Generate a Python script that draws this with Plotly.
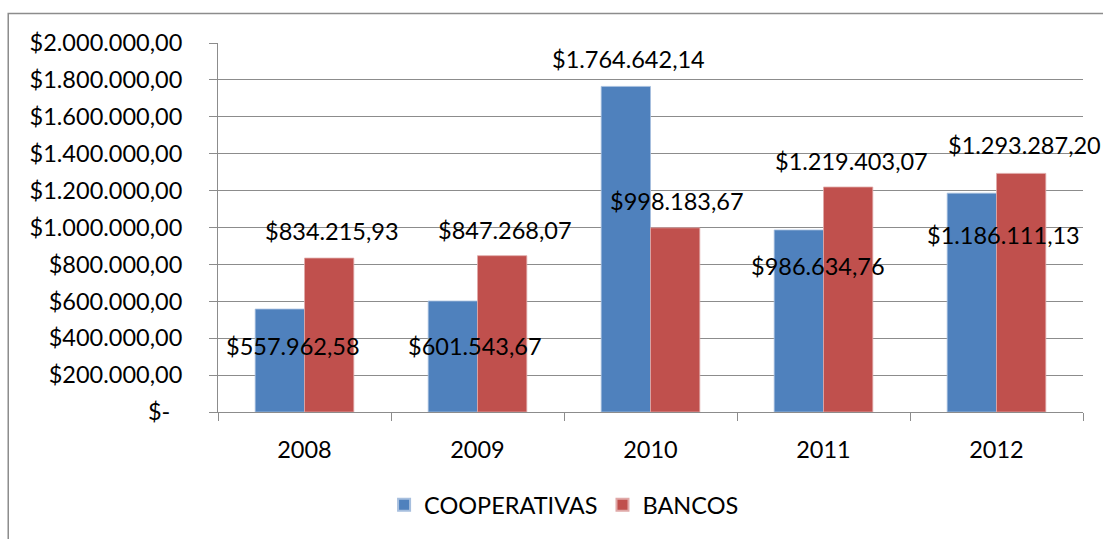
import plotly.graph_objects as go

years = ["2008", "2009", "2010", "2011", "2012"]
cooperativas = [557962.58, 601543.67, 1764642.14, 986634.76, 1186111.13]
bancos = [834215.93, 847268.07, 998183.67, 1219403.07, 1293287.20]
series_names = ["COOPERATIVAS", "BANCOS"]
y_tickvals = [0, 200000, 400000, 600000, 800000, 1000000, 1200000, 1400000, 1600000, 1800000, 2000000]
y_ticktext = ["$-\u00a0\u00a0", "$200.000,00", "$400.000,00", "$600.000,00", "$800.000,00",
              "$1.000.000,00", "$1.200.000,00", "$1.400.000,00", "$1.600.000,00",
              "$1.800.000,00", "$2.000.000,00"]

# label pixel offsets (dx, dy) relative to each bar top centre
label_offsets = [
    [(13, -37), (22, -45), (3, 27), (19, -36), (32, -42)],
    [(3, 27), (3, 26), (2, 27), (3, 26), (3, 28)],
]

colors = ["#4F81BD", "#C0504D"]
edge_colors = ["#A7BFDE", "#E0A9A8"]
FONT = "Lato"
FS = 23.5
BARGAP = 0.43


def fmt(v):
    s = f"{v:,.2f}"
    return "$" + s.replace(",", "X").replace(".", ",").replace("X", ".")


fig = go.Figure()
for name, vals, c, ec in zip(series_names, [cooperativas, bancos], colors, edge_colors):
    fig.add_trace(go.Bar(x=years, y=vals, name=name, marker=dict(color=c, line=dict(color=ec, width=0.8))))

half = (1 - BARGAP) / 4
annotations = []
for si, vals in enumerate([cooperativas, bancos]):
    shift = -half if si == 0 else half
    for j, v in enumerate(vals):
        dx, dy = label_offsets[si][j]
        annotations.append(dict(
            x=j + shift, y=v, xref="x", yref="y", text=fmt(v), showarrow=False,
            xshift=dx, yshift=dy, xanchor="center", yanchor="middle",
            font=dict(family=FONT, size=FS, color="black")))

fig.update_layout(
    width=1103, height=539, autosize=False,
    margin=dict(l=218, r=20, t=43, b=123),
    paper_bgcolor="white", plot_bgcolor="white",
    barmode="group", bargap=BARGAP, bargroupgap=0,
    font=dict(family=FONT, size=FS, color="black"),
    annotations=annotations,
    showlegend=True,
    legend=dict(orientation="h", x=0.192, xanchor="left", y=-0.252, yanchor="middle",
                font=dict(family=FONT, size=FS, color="black"), bgcolor="rgba(0,0,0,0)",
                itemsizing="constant", traceorder="normal"),
    shapes=[dict(type="rect", xref="paper", yref="paper", x0=-0.2425, y0=-0.6, x1=1.2, y1=1.08,
                 line=dict(color="#8C8C8C", width=1.5), fillcolor="rgba(0,0,0,0)", layer="below")],
)
fig.update_yaxes(range=[0, 2000000], tickvals=y_tickvals, ticktext=y_ticktext,
                 showgrid=True, gridcolor="#8C8C8C", gridwidth=1,
                 showline=True, linecolor="#8C8C8C", linewidth=1,
                 ticks="outside", ticklen=8, tickcolor="#8C8C8C", ticklabelstandoff=22,
                 zeroline=False, tickfont=dict(family=FONT, size=FS, color="black"))
fig.update_xaxes(type="category", range=[-0.5, len(years) - 0.5],
                 showline=True, linecolor="#8C8C8C", linewidth=1,
                 ticks="outside", ticklen=8, tickcolor="#8C8C8C", tickson="boundaries",
                 showgrid=False, tickfont=dict(family=FONT, size=FS, color="black"),
                 ticklabelstandoff=17)

fig.write_html("out.html")
